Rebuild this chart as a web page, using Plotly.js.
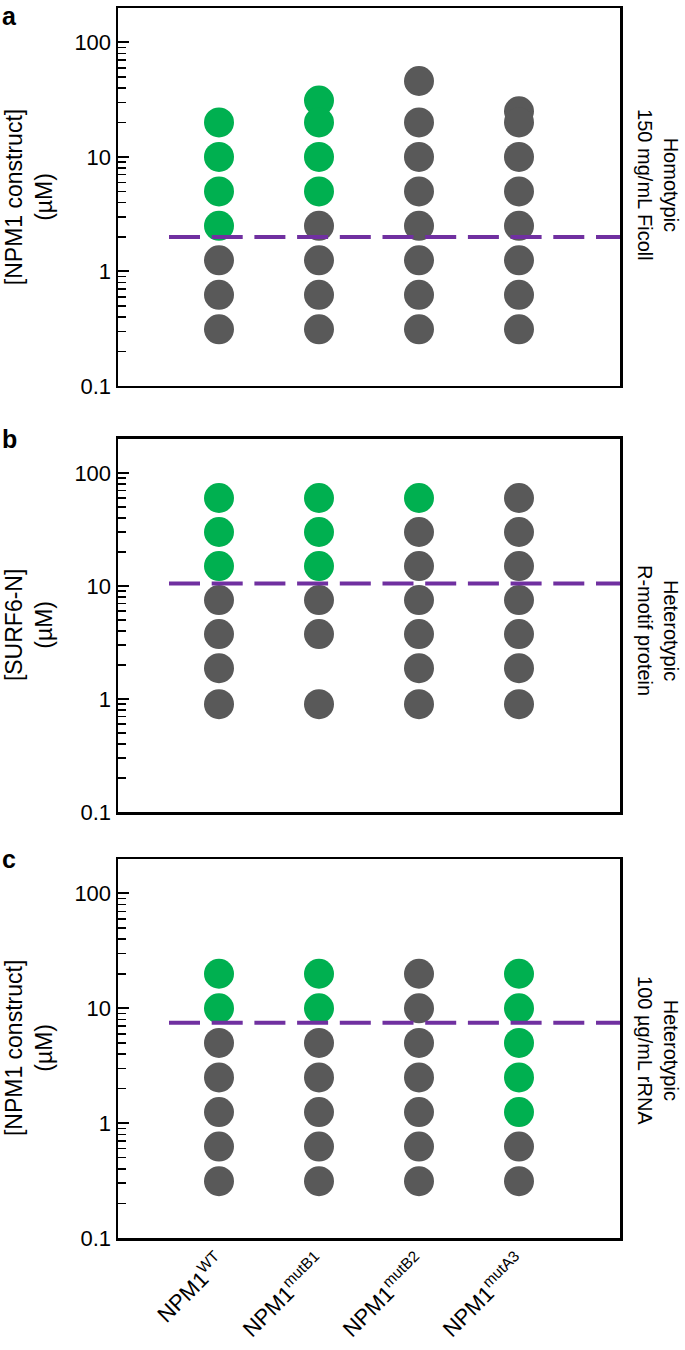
<!DOCTYPE html>
<html>
<head>
<meta charset="utf-8">
<script src="https://cdn.plot.ly/plotly-3.0.1.min.js"></script>
<style>html,body{margin:0;padding:0;background:#fff;}</style>
</head>
<body>
<div id="chart" style="width:685px;height:1350px;"></div>
<script>
// Categories (x axis)
const categories = ['NPM1<sup>WT</sup>', 'NPM1<sup>mutB1</sup>', 'NPM1<sup>mutB2</sup>', 'NPM1<sup>mutA3</sup>'];

// Panel a: Homotypic, 150 mg/mL Ficoll  (green = phase separated, gray = not)
const aGreen = [[20, 10, 5, 2.5], [31, 20, 10, 5], [], []];
const aGray  = [[1.25, 0.625, 0.3125],
                [2.5, 1.25, 0.625, 0.3125],
                [46, 20, 10, 5, 2.5, 1.25, 0.625, 0.3125],
                [25, 20, 10, 5, 2.5, 1.25, 0.625, 0.3125]];
const aThreshold = 2;

// Panel b: Heterotypic, R-motif protein
const bGreen = [[60, 30, 15], [60, 30, 15], [60], []];
const bGray  = [[7.5, 3.75, 1.875, 0.9],
                [7.5, 3.75, 0.9],
                [30, 15, 7.5, 3.75, 1.875, 0.9],
                [60, 30, 15, 7.5, 3.75, 1.875, 0.9]];
const bThreshold = 10.5;

// Panel c: Heterotypic, 100 µg/mL rRNA
const cGreen = [[20, 10], [20, 10], [], [20, 10, 5, 2.5, 1.25]];
const cGray  = [[5, 2.5, 1.25, 0.625, 0.3125],
                [5, 2.5, 1.25, 0.625, 0.3125],
                [20, 10, 5, 2.5, 1.25, 0.625, 0.3125],
                [0.625, 0.3125]];
const cThreshold = 7.5;

const yTitles = ['[NPM1 construct]<br>(µM)', '[SURF6-N]<br>(µM)', '[NPM1 construct]<br>(µM)'];
const rightLabels = ['Homotypic<br>150 mg/mL Ficoll', 'Heterotypic<br>R-motif protein', 'Heterotypic<br>100 µg/mL rRNA'];
const panelLetters = ['a', 'b', 'c'];
const yTickVals = [0.1, 1, 10, 100];
const yTickText = ['0.1', '1', '10', '100'];

const GREEN = '#00b050', GRAY = '#595959', PURPLE = '#7030a0';
const FONT = 'Liberation Sans, Arial, Helvetica, sans-serif';

function flatten(groups) {
  const x = [], y = [];
  groups.forEach((vals, i) => vals.forEach(v => { x.push(i); y.push(v); }));
  return {x, y};
}

const panels = [
  {green: aGreen, gray: aGray, thr: aThreshold, xa: 'x', ya: 'y'},
  {green: bGreen, gray: bGray, thr: bThreshold, xa: 'x2', ya: 'y2'},
  {green: cGreen, gray: cGray, thr: cThreshold, xa: 'x3', ya: 'y3'}
];

const traces = [];
panels.forEach(p => {
  const g = flatten(p.gray), gr = flatten(p.green);
  traces.push({type: 'scatter', mode: 'markers', x: g.x, y: g.y, xaxis: p.xa, yaxis: p.ya,
    marker: {size: 30, color: GRAY}, hoverinfo: 'skip', showlegend: false});
  traces.push({type: 'scatter', mode: 'markers', x: gr.x, y: gr.y, xaxis: p.xa, yaxis: p.ya,
    marker: {size: 30, color: GREEN}, hoverinfo: 'skip', showlegend: false});
  traces.push({type: 'scatter', mode: 'lines', x: [-0.5, 4.5], y: [p.thr, p.thr], xaxis: p.xa, yaxis: p.ya,
    line: {color: PURPLE, width: 4, dash: '31px,11.7px'}, hoverinfo: 'skip', showlegend: false});
});

const minorVals = [];
for (let k = -1; k <= 1; k++) for (let d = 2; d <= 9; d++) minorVals.push(d * Math.pow(10, k));

function xAxis(anchor, showLabels) {
  return {
    anchor: anchor, domain: [0, 1], range: [-1.01, 4.01],
    showline: true, mirror: true, linecolor: '#000', linewidth: 2.5,
    showgrid: false, zeroline: false, ticks: '',
    tickmode: 'array', tickvals: [0, 1, 2, 3], ticktext: categories,
    showticklabels: showLabels, tickangle: -45,
    tickfont: {family: FONT, size: 22, color: '#000'}
  };
}
function yAxis(anchor, domain) {
  return {
    anchor: anchor, domain: domain, type: 'log', range: [-1, 2.3],
    showline: true, mirror: true, linecolor: '#000', linewidth: 2.5,
    showgrid: false, zeroline: false,
    tickmode: 'array', tickvals: yTickVals, ticktext: yTickText,
    ticks: 'inside', ticklen: 11, tickwidth: 2, tickcolor: '#000',
    minor: {tickmode: 'array', tickvals: minorVals, ticks: 'inside', ticklen: 8, tickwidth: 1.5, tickcolor: '#000', showgrid: false},
    tickfont: {family: FONT, size: 22, color: '#000'}
  };
}

const domains = [[0.6927, 1], [0.3463, 0.6496], [0, 0.3081]];
const yCenters = [0.8463, 0.4984, 0.1545];
const rightCenters = [0.856, 0.4943, 0.1528];
const letterTop = [1.0065, 0.6626, 0.3211];

const annotations = [];
for (let i = 0; i < 3; i++) {
  annotations.push({xref: 'paper', yref: 'paper', x: -0.177, y: yCenters[i], xanchor: 'center', yanchor: 'middle',
    text: yTitles[i], textangle: -90, showarrow: false, font: {family: FONT, size: 23, color: '#000'}});
  annotations.push({xref: 'paper', yref: 'paper', x: 1.0757, y: rightCenters[i], xanchor: 'center', yanchor: 'middle',
    text: rightLabels[i], textangle: 90, showarrow: false, font: {family: FONT, size: 20, color: '#000'}});
  annotations.push({xref: 'paper', yref: 'paper', x: -0.235, y: letterTop[i], xanchor: 'left', yanchor: 'top',
    text: '<b>' + panelLetters[i] + '</b>', showarrow: false, font: {family: FONT, size: 25, color: '#000'}});
}

const layout = {
  width: 685, height: 1350,
  margin: {l: 118, r: 65, t: 8, b: 112, pad: 0},
  paper_bgcolor: '#fff', plot_bgcolor: '#fff',
  font: {family: FONT, color: '#000'},
  showlegend: false, hovermode: false,
  xaxis: xAxis('y', false),
  xaxis2: xAxis('y2', false),
  xaxis3: xAxis('y3', true),
  yaxis: yAxis('x', domains[0]),
  yaxis2: yAxis('x2', domains[1]),
  yaxis3: yAxis('x3', domains[2]),
  annotations: annotations
};

Plotly.newPlot('chart', traces, layout, {staticPlot: true, displayModeBar: false});
</script>
</body>
</html>
